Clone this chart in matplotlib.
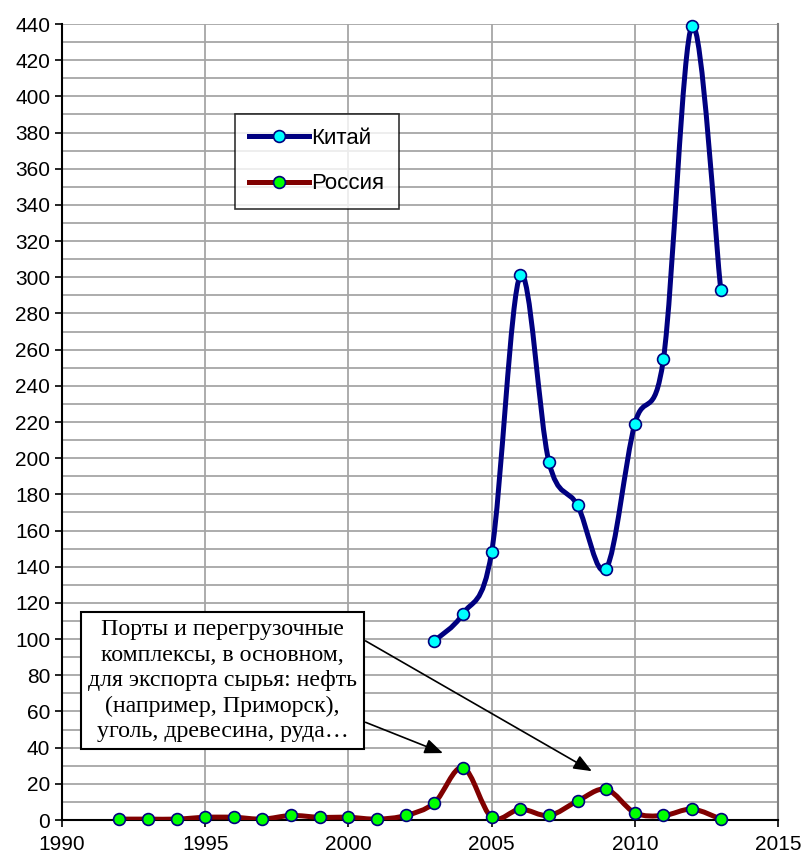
import numpy as np
import matplotlib
matplotlib.use("Agg")
import matplotlib.pyplot as plt
from matplotlib.path import Path
from matplotlib.patches import PathPatch
from matplotlib.lines import Line2D

# data
china_years = [2003, 2004, 2005, 2006, 2007, 2008, 2009, 2010, 2011, 2012, 2013]
china_vals = [99, 114, 148, 301, 198, 174, 139, 219, 255, 439, 293]

russia_years = list(range(1992, 2014))
russia_vals = [0.5, 0.5, 0.5, 1.5, 1.5, 0.5, 2.5, 1.5, 1.5, 0.5, 2.5, 9.5,
               29, 1.5, 6, 2.5, 10.5, 17, 4, 2.5, 6, 0.5]

legend_labels = ["Китай", "Россия"]
note = ("Порты и перегрузочные\nкомплексы, в основном,\n"
        "для экспорта сырья: нефть\n(например, Приморск),\nуголь, древесина, руда…")


def smooth_path(xs, ys):
    # Excel-like smoothed line: cubic bezier segments through the data points
    pts = np.column_stack([xs, ys]).astype(float)
    verts = [pts[0]]
    codes = [Path.MOVETO]
    n = len(pts)
    for i in range(n - 1):
        p0 = pts[i - 1] if i > 0 else pts[i]
        p1 = pts[i]
        p2 = pts[i + 1]
        p3 = pts[i + 2] if i + 2 < n else pts[i + 1]
        c1 = p1 + (p2 - p0) / 6
        c2 = p2 - (p3 - p1) / 6
        verts += [c1, c2, p2]
        codes += [Path.CURVE4] * 3
    return Path(verts, codes)


fig = plt.figure(figsize=(8.03, 8.61), dpi=100)
ax = fig.add_axes([0.0772, 0.0476, 0.8917, 0.9245])

ax.set_xlim(1990, 2015)
ax.set_ylim(0, 440)
ax.set_xticks(range(1990, 2016, 5))
ax.set_yticks(range(0, 441, 20))
ax.set_yticks(range(0, 441, 10), minor=True)
ax.tick_params(axis="y", which="minor", length=0)
ax.tick_params(axis="both", which="major", direction="out", length=5,
               width=1.2, labelsize=15)
ax.tick_params(axis="x", pad=6)
for lbl in ax.get_xticklabels() + ax.get_yticklabels():
    lbl.set_fontfamily("Liberation Sans")

ax.grid(True, which="both", axis="y", color="#a6a6a6", lw=1.3)
ax.grid(True, which="major", axis="x", color="#a6a6a6", lw=1.3)
ax.set_axisbelow(True)

ax.spines["top"].set_visible(False)
ax.spines["right"].set_color("#808080")
ax.spines["right"].set_linewidth(1.5)
ax.spines["left"].set_linewidth(1.5)
ax.spines["bottom"].set_linewidth(1.5)

china_color = "#000080"
russia_color = "#800000"

ax.add_patch(PathPatch(smooth_path(china_years, china_vals), fill=False,
                       edgecolor=china_color, lw=3.6, capstyle="round",
                       joinstyle="round", zorder=3))
ax.add_patch(PathPatch(smooth_path(russia_years, russia_vals), fill=False,
                       edgecolor=russia_color, lw=3.6, capstyle="round",
                       joinstyle="round", zorder=3))
ax.plot(china_years, china_vals, "o", ms=8.5, mfc="#00ffff", mec=china_color,
        mew=1.2, zorder=4, clip_on=False)
ax.plot(russia_years, russia_vals, "o", ms=8.5, mfc="#00ff00", mec=china_color,
        mew=1.2, zorder=4, clip_on=False)

handles = [
    Line2D([], [], color=china_color, lw=3.6, marker="o", ms=8.5,
           mfc="#00ffff", mec=china_color, mew=1.2),
    Line2D([], [], color=russia_color, lw=3.6, marker="o", ms=8.5,
           mfc="#00ff00", mec=china_color, mew=1.2),
]
leg = ax.legend(handles, legend_labels, loc="upper left",
                bbox_to_anchor=(0.2275, 0.9005), frameon=True, fancybox=False,
                handlelength=2.7, handletextpad=0.1, labelspacing=1.1,
                borderpad=0.65, borderaxespad=0,
                prop={"family": "Liberation Sans", "size": 16})
leg.get_frame().set_edgecolor("black")
leg.get_frame().set_linewidth(1.2)
leg.set_bbox_to_anchor((0.2415, 0.8875), transform=ax.transAxes)

ax.text(1995.6, 77, note, ha="center", va="center",
        family="Liberation Serif", fontsize=17.2, linespacing=1.27, zorder=5,
        bbox=dict(boxstyle="square,pad=0.3", fc="white", ec="black", lw=1.5))

arrow = dict(arrowstyle="-|>,head_length=1.1,head_width=0.45", color="black",
             lw=1.2, shrinkA=0, shrinkB=0)
ax.annotate("", xy=(2008.5, 27), xytext=(2000.6, 99), arrowprops=arrow)
ax.annotate("", xy=(2003.3, 37), xytext=(2000.6, 54), arrowprops=arrow)

fig.savefig("out.png", dpi=100)
